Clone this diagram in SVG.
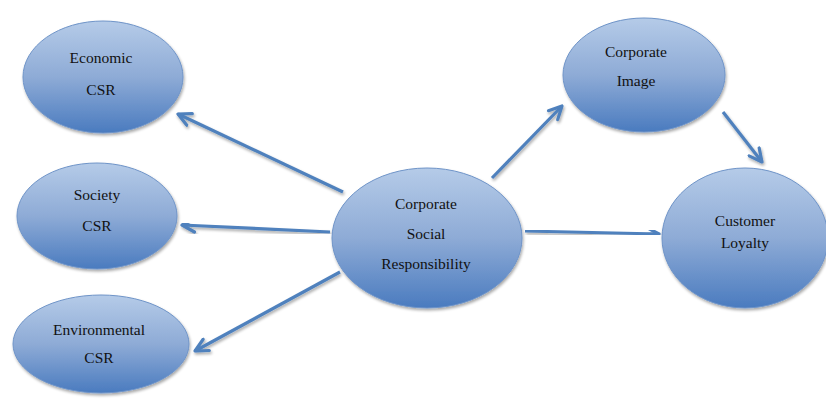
<svg xmlns="http://www.w3.org/2000/svg" width="826" height="402" viewBox="0 0 826 402">
<defs>
<linearGradient id="g" x1="0" y1="0" x2="0" y2="1">
<stop offset="0" stop-color="#b5cbe8"/>
<stop offset="0.5" stop-color="#8eabd6"/>
<stop offset="1" stop-color="#4a7bbf"/>
</linearGradient>
<filter id="sh" x="-20%" y="-20%" width="140%" height="140%">
<feGaussianBlur in="SourceAlpha" stdDeviation="1.5"/>
<feOffset dx="1" dy="2" result="b"/>
<feComponentTransfer><feFuncA type="linear" slope="0.35"/></feComponentTransfer>
<feMerge><feMergeNode/><feMergeNode in="SourceGraphic"/></feMerge>
</filter>
<marker id="ah" viewBox="0 0 10 10" refX="9" refY="5" markerWidth="5" markerHeight="5" orient="auto" markerUnits="strokeWidth">
<path d="M1,1 L9,5 L1,9" fill="none" stroke="#4f81bd" stroke-width="2" stroke-linecap="round" stroke-linejoin="round"/>
</marker>
</defs>
<style>
.n{fill:url(#g);stroke:#6f94c8;stroke-width:1;filter:url(#sh)}
text{font-family:'Liberation Serif','DejaVu Serif','Times New Roman',serif;font-size:15.5px;fill:#111;text-anchor:middle}
.c{stroke:#4f81bd;stroke-width:3.2;fill:none;marker-end:url(#ah);filter:url(#sh)}
</style>
<g id="connectors">
<line class="c" x1="343" y1="192" x2="178" y2="114"/>
<line class="c" x1="330" y1="232" x2="182" y2="225"/>
<line class="c" x1="340" y1="272" x2="195" y2="351"/>
<line class="c" x1="492" y1="178" x2="562" y2="106"/>
<line class="c" x1="525" y1="231" x2="659" y2="234"/>
<line class="c" x1="723" y1="112" x2="762" y2="162"/>
</g>
<g id="economic"><ellipse class="n" cx="103" cy="77" rx="80" ry="56"/><text x="101" y="63">Economic</text><text x="101" y="95">CSR</text></g>
<g id="society"><ellipse class="n" cx="97" cy="216" rx="80" ry="53"/><text x="97" y="200">Society</text><text x="97" y="231">CSR</text></g>
<g id="environmental"><ellipse class="n" cx="101" cy="344" rx="88" ry="49"/><text x="99" y="335">Environmental</text><text x="99" y="363">CSR</text></g>
<g id="csr"><ellipse class="n" cx="427" cy="238" rx="95" ry="70"/><text x="426" y="209">Corporate</text><text x="426" y="239">Social</text><text x="426" y="269">Responsibility</text></g>
<g id="image"><ellipse class="n" cx="644" cy="75" rx="81" ry="57"/><text x="636" y="57">Corporate</text><text x="636" y="86">Image</text></g>
<g id="loyalty"><ellipse class="n" cx="745" cy="238" rx="83" ry="70"/><text x="745" y="226">Customer</text><text x="745" y="248">Loyalty</text></g>
</svg>
